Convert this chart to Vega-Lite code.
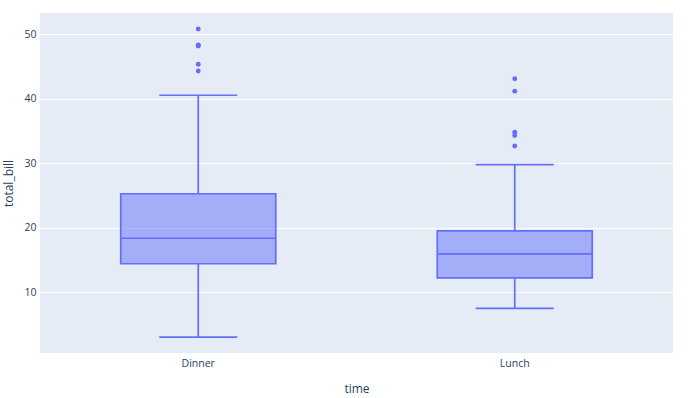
{
  "$schema": "https://vega.github.io/schema/vega-lite/v6.json",
  "width": 633,
  "height": 340,
  "autosize": "none",
  "padding": {"left": 40, "top": 13, "right": 17, "bottom": 45},
  "background": "white",
  "config": {
    "view": {"fill": "#E5ECF6", "stroke": null},
    "font": "Open Sans",
    "axis": {
      "labelFont": "Open Sans",
      "titleFont": "Open Sans",
      "labelColor": "#2a3f5f",
      "titleColor": "#2a3f5f",
      "labelFontSize": 10.5,
      "titleFontSize": 12,
      "titleFontWeight": "normal",
      "domain": false,
      "ticks": false
    }
  },
  "datasets": {
    "box": [
      {"time": "Dinner", "min": 3.07, "q1": 14.4375, "median": 18.39, "q3": 25.2825, "max": 40.55},
      {"time": "Lunch", "min": 7.51, "q1": 12.235, "median": 15.965, "q3": 19.5325, "max": 29.8}
    ],
    "outliers": [
      {"time": "Dinner", "total_bill": 44.3},
      {"time": "Dinner", "total_bill": 45.35},
      {"time": "Dinner", "total_bill": 48.17},
      {"time": "Dinner", "total_bill": 48.27},
      {"time": "Dinner", "total_bill": 48.33},
      {"time": "Dinner", "total_bill": 50.81},
      {"time": "Lunch", "total_bill": 32.68},
      {"time": "Lunch", "total_bill": 34.3},
      {"time": "Lunch", "total_bill": 34.83},
      {"time": "Lunch", "total_bill": 41.19},
      {"time": "Lunch", "total_bill": 43.11}
    ]
  },
  "encoding": {
    "x": {
      "field": "time",
      "type": "nominal",
      "sort": ["Dinner", "Lunch"],
      "scale": {"paddingInner": 0, "paddingOuter": 0},
      "axis": {"title": "time", "labelAngle": 0, "grid": false, "labelPadding": 5, "titlePadding": 15}
    }
  },
  "layer": [
    {
      "data": {"name": "box"},
      "mark": {"type": "rule", "color": "#636efa", "strokeWidth": 1.7},
      "encoding": {
        "y": {
          "field": "min",
          "type": "quantitative",
          "scale": {"domain": [0.6, 53.3], "nice": false, "zero": false},
          "axis": {"title": "total_bill", "values": [10, 20, 30, 40, 50], "grid": true, "gridColor": "white", "gridWidth": 1, "labelPadding": 4, "titlePadding": 8}
        },
        "y2": {"field": "q1"}
      }
    },
    {
      "data": {"name": "box"},
      "mark": {"type": "rule", "color": "#636efa", "strokeWidth": 1.7},
      "encoding": {
        "y": {"field": "q3", "type": "quantitative"},
        "y2": {"field": "max"}
      }
    },
    {
      "data": {"name": "box"},
      "mark": {"type": "tick", "color": "#636efa", "size": 78, "thickness": 1.7, "opacity": 1},
      "encoding": {"y": {"field": "min", "type": "quantitative"}}
    },
    {
      "data": {"name": "box"},
      "mark": {"type": "tick", "color": "#636efa", "size": 78, "thickness": 1.7, "opacity": 1},
      "encoding": {"y": {"field": "max", "type": "quantitative"}}
    },
    {
      "data": {"name": "box"},
      "mark": {"type": "bar", "size": 155, "fill": "#636efa", "fillOpacity": 0.5, "stroke": "#636efa", "strokeWidth": 1.7},
      "encoding": {
        "y": {"field": "q1", "type": "quantitative"},
        "y2": {"field": "q3"}
      }
    },
    {
      "data": {"name": "box"},
      "mark": {"type": "tick", "color": "#636efa", "size": 155, "thickness": 1.7, "opacity": 1},
      "encoding": {"y": {"field": "median", "type": "quantitative"}}
    },
    {
      "data": {"name": "outliers"},
      "mark": {"type": "circle", "color": "#636efa", "size": 24, "opacity": 1},
      "encoding": {"y": {"field": "total_bill", "type": "quantitative"}}
    }
  ]
}
